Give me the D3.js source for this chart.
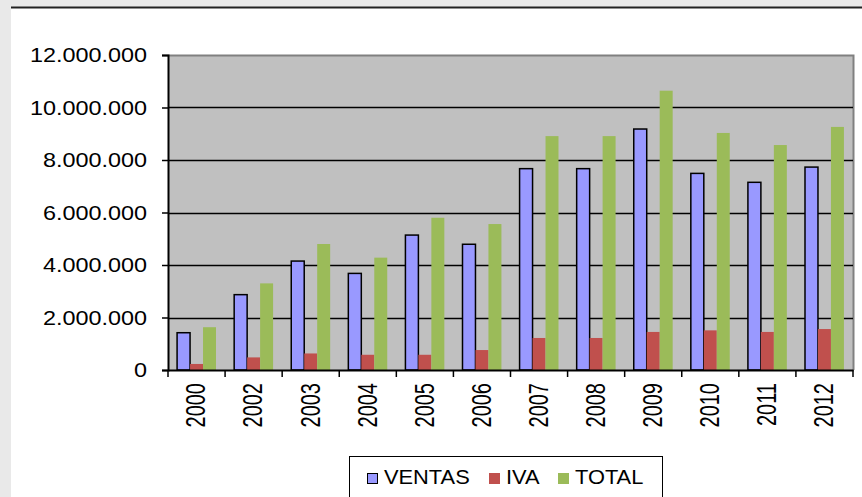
<!DOCTYPE html>
<html>
<head>
  <meta charset="utf-8">
  <script src="https://d3js.org/d3.v7.min.js"></script>
  <style>
    body { margin: 0; background: #e9e9e9; }
    svg text { font-family: Arial, 'Liberation Sans', sans-serif; fill: #000; }
  </style>
</head>
<body>
<script>
  // chart data
  var years  = ['2000', '2002', '2003', '2004', '2005', '2006', '2007', '2008', '2009', '2010', '2011', '2012'];
  var series = ['VENTAS', 'IVA', 'TOTAL'];
  var ventas = [1420000, 2870000, 4150000, 3680000, 5140000, 4790000, 7670000, 7670000, 9180000, 7490000, 7150000, 7730000];
  var iva    = [230000, 480000, 630000, 580000, 580000, 760000, 1220000, 1220000, 1450000, 1510000, 1450000, 1560000];
  var total  = [1630000, 3300000, 4800000, 4280000, 5800000, 5560000, 8910000, 8910000, 10640000, 9030000, 8570000, 9260000];
  var yTicks = [0, 2000000, 4000000, 6000000, 8000000, 10000000, 12000000];
  var colors = { VENTAS: '#9999ff', IVA: '#c0504d', TOTAL: '#9bbb59' };

  var W = 862, H = 497;
  var pL = 168, pR = 853, pT = 55, pB = 370;

  var svg = d3.select('body').append('svg')
    .attr('width', W).attr('height', H)
    .style('display', 'block');

  // white chart sheet with dark top edge
  svg.append('rect').attr('x', 11).attr('y', 7).attr('width', W - 11).attr('height', H - 7).attr('fill', '#fff');
  svg.append('line').attr('x1', 11).attr('x2', W).attr('y1', 7.5).attr('y2', 7.5)
    .attr('stroke', '#222').attr('stroke-width', 2);

  var fmt = d3.formatLocale({ decimal: ',', thousands: '.', grouping: [3], currency: ['', ''] }).format(',');

  var y = d3.scaleLinear().domain([0, 12000000]).range([pB, pT]);
  var x = d3.scaleBand().domain(years).range([pL, pR]).paddingInner(0).paddingOuter(0);
  var x1 = d3.scaleBand().domain(series).range([0, x.bandwidth()]).paddingInner(0).paddingOuter(0.7);

  // plot area
  svg.append('rect').attr('x', pL).attr('y', pT)
    .attr('width', pR - pL).attr('height', pB - pT)
    .attr('fill', '#c0c0c0');
  svg.append('path')
    .attr('d', 'M' + pL + ',' + (pT + 0.5) + 'H' + (pR + 0.5) + 'V' + pB)
    .attr('fill', 'none').attr('stroke', '#808080').attr('stroke-width', 2);

  // gridlines
  svg.append('g').selectAll('line')
    .data(yTicks.filter(function(d) { return d > 0 && d < 12000000; }))
    .join('line')
      .attr('x1', pL).attr('x2', pR)
      .attr('y1', function(d) { return Math.round(y(d)) + 0.5; })
      .attr('y2', function(d) { return Math.round(y(d)) + 0.5; })
      .attr('stroke', '#000').attr('stroke-width', 1.5);

  // bars
  var rows = years.map(function(yr, i) {
    return { year: yr, VENTAS: ventas[i], IVA: iva[i], TOTAL: total[i] };
  });
  var groups = svg.append('g').selectAll('g')
    .data(rows).join('g')
      .attr('transform', function(d) { return 'translate(' + x(d.year) + ',0)'; });
  groups.selectAll('rect')
    .data(function(d) { return series.map(function(s) { return { key: s, value: d[s] }; }); })
    .join('rect')
      .attr('x', function(d) { return x1(d.key); })
      .attr('y', function(d) { return y(d.value); })
      .attr('width', x1.bandwidth())
      .attr('height', function(d) { return pB - y(d.value); })
      .attr('fill', function(d) { return colors[d.key]; })
      .attr('stroke', function(d) { return d.key === 'VENTAS' ? '#000' : 'none'; })
      .attr('stroke-width', 1.5);

  // axes
  var yAxis = d3.axisLeft(y).tickValues(yTicks).tickSize(6).tickFormat(fmt);
  var gy = svg.append('g').attr('transform', 'translate(' + pL + ',0)').call(yAxis);
  gy.select('.domain').attr('stroke', '#000').attr('stroke-width', 2);
  gy.selectAll('.tick line').attr('stroke', '#000').attr('stroke-width', 1.5);
  gy.selectAll('.tick text').remove();
  gy.selectAll('.tick').append('text')
    .attr('transform', 'translate(-21,0) scale(1.2,1)')
    .attr('dy', '0.35em')
    .attr('text-anchor', 'end')
    .style('font-size', '19.5px')
    .text(fmt);

  var xAxis = d3.axisBottom(x).tickSize(0).tickFormat('');
  var gx = svg.append('g').attr('transform', 'translate(0,' + pB + ')').call(xAxis);
  gx.select('.domain').attr('stroke', '#000').attr('stroke-width', 2);
  gx.selectAll('.tick').remove();
  gx.append('g').selectAll('line')
    .data(years.map(function(d) { return x(d); }).concat([pR]))
    .join('line')
      .attr('x1', function(d) { return d; }).attr('x2', function(d) { return d; })
      .attr('y1', 0).attr('y2', 7)
      .attr('stroke', '#000').attr('stroke-width', 1.5);
  gx.append('g').selectAll('text')
    .data(years).join('text')
      .attr('transform', function(d) {
        return 'translate(' + (x(d) + x.bandwidth() / 2 - 1) + ',13) scale(1.4,1) rotate(-90)';
      })
      .attr('dy', '0.35em')
      .attr('text-anchor', 'end')
      .style('font-size', '20px')
      .text(function(d) { return d; });

  // legend
  var lg = svg.append('g');
  lg.append('rect').attr('x', 349.5).attr('y', 456.5).attr('width', 313).attr('height', 60)
    .attr('fill', '#fff').attr('stroke', '#000').attr('stroke-width', 1);
  var legendX = [367, 489, 558];
  series.forEach(function(s, i) {
    lg.append('rect')
      .attr('x', legendX[i] + 0.5).attr('y', 473.5).attr('width', 10).attr('height', 10)
      .attr('fill', colors[s])
      .attr('stroke', s === 'VENTAS' ? '#000' : colors[s]).attr('stroke-width', 1);
    lg.append('text')
      .attr('transform', 'translate(' + (legendX[i] + 17) + ',484) scale(1.12,1)')
      .style('font-size', '19.5px')
      .text(s);
  });
</script>
</body>
</html>
